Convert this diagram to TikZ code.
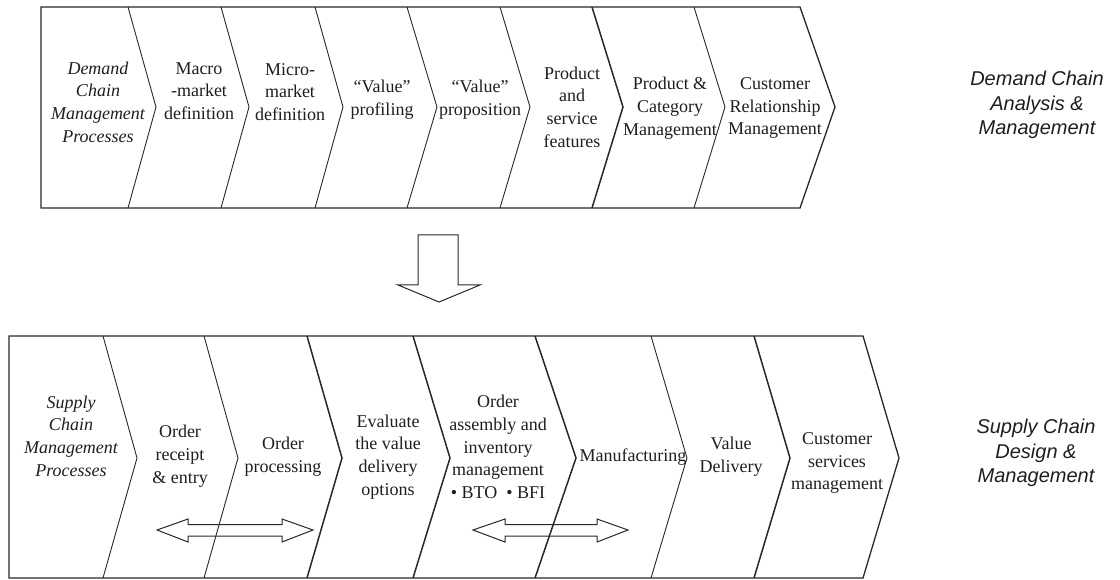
\documentclass[tikz,border=0pt]{standalone}
\usepackage{fontspec}
\setmainfont{Liberation Serif}
\newfontfamily\sidefont{Liberation Sans}
\usetikzlibrary{positioning}
\definecolor{linegray}{RGB}{40,40,40}
\definecolor{textgray}{RGB}{30,30,30}

\begin{document}
\begin{tikzpicture}[x=1pt, y=-1pt, draw=linegray, text=textgray,
    font=\fontsize{18}{22.7}\selectfont,
    every node/.style={align=center, inner sep=0pt},
    procname/.style={font=\fontsize{18}{22.7}\selectfont\itshape},
    sidelabel/.style={font=\sidefont\itshape\fontsize{20}{24.5}\selectfont},
    outline/.style={line width=1.3pt},
    divline/.style={line width=0.9pt},
    heavydiv/.style={line width=1.5pt},
    blockarrow/.style={line width=1pt}]
  \useasboundingbox (0,0) rectangle (1120,580);

  % demand chain row
  \draw[outline] (800,7) -- (41,7) -- (41,208) -- (800,208) -- (835,107) -- cycle;
  \foreach \x/\t in {128/156, 221/249, 315/343, 407/437, 500/530, 694/725}
     \draw[divline] (\x,7) -- (\t,107) -- (\x,208);
  \draw[heavydiv] (592,7) -- (623,107) -- (592,208);

  \node (dcproc) at (98,102) [procname]{Demand\\ Chain\\ Management\\ Processes};
  \node (macro) at (199,91) {Macro\\ -market\\ definition};
  \node (micro) at (290,92) {Micro-\\ market\\ definition};
  \node (vprof) at (382,100) {“Value”\\ profiling};
  \node (vprop) at (480,100) {“Value”\\ proposition};
  \node (prodfeat) at (572,107) {Product\\ and\\ service\\ features};
  \node (prodcat) at (670,108) {Product \&\\ Category\\ Management};
  \node (crm) at (775,108) {Customer\\ Relationship\\ Management};

  \node (dclabel) at (1037,105) [sidelabel]{Demand Chain\\ Analysis \&\\ Management};

  % hand over to the supply chain
  \draw[blockarrow] (418,235) -- (458,235) -- (458,285) -- (480,285) -- (439,302)
     -- (398,285) -- (418,285) -- cycle;

  % supply chain row
  \draw[outline] (863,336) -- (9,336) -- (9,578) -- (863,578) -- (899,458) -- cycle;
  \foreach \x/\t in {103/137, 204/238, 651/687}
     \draw[divline] (\x,336) -- (\t,458) -- (\x,578);
  \foreach \x/\t in {307/342, 413/450, 535/576, 754/790}
     \draw[heavydiv] (\x,336) -- (\t,458) -- (\x,578);

  \node (scproc) at (71,436) [procname]{Supply\\ Chain\\ Management\\ Processes};
  \node (ordentry) at (180,456) {Order\\ receipt\\ \& entry};
  \node (ordproc) at (283,457) {Order\\ processing};
  \node (evaldel) at (388,457) {Evaluate\\ the value\\ delivery\\ options};
  \node (ordasm) at (498,447) {Order\\ assembly and\\ inventory\\ management\\ • BTO\enspace • BFI};
  \node (manuf) at (633,457) {Manufacturing};
  \node (valdel) at (731,457) {Value\\ Delivery};
  \node (custserv) at (837,463) {Customer\\ services\\ management};

  \node (sclabel) at (1036,453) [sidelabel]{Supply Chain\\ Design \&\\ Management};

  % two-way arrows
  \draw[blockarrow] (157,530) -- (188,519) -- (188,524.5) -- (282,524.5) -- (282,519)
     -- (313,530) -- (282,542) -- (282,536) -- (188,536) -- (188,542) -- cycle;
  \draw[blockarrow] (473,530) -- (505,519) -- (505,524.5) -- (597,524.5) -- (597,519)
     -- (628,530) -- (597,542) -- (597,536) -- (505,536) -- (505,542) -- cycle;
\end{tikzpicture}
\end{document}
